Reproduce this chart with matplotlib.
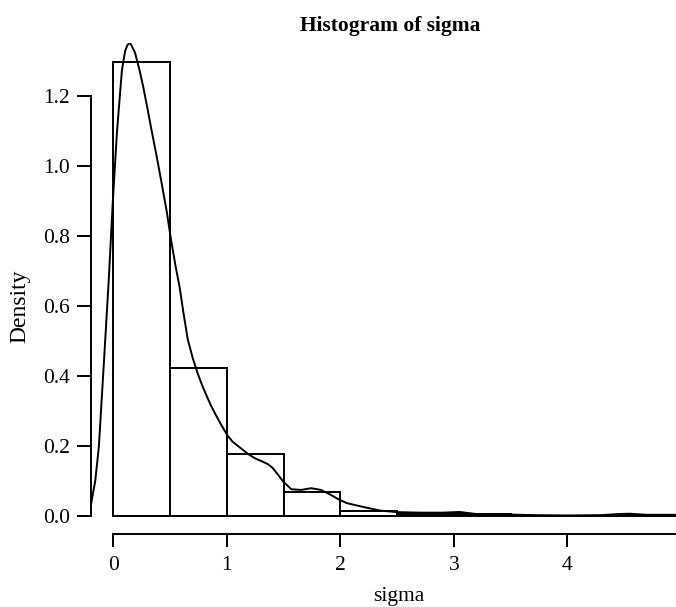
import matplotlib.pyplot as plt
import numpy as np

# histogram of sigma (density scale), bins of width 0.5
bin_edges = [0.0, 0.5, 1.0, 1.5, 2.0, 2.5, 3.0, 3.5, 4.0, 4.5, 5.0]
bin_density = [1.298, 0.422, 0.177, 0.0686, 0.0143, 0.006, 0.006, 0.0, 0.0, 0.003]

# kernel density estimate
kde_x = [-0.20, -0.16, -0.128, -0.084, -0.041, -0.006, 0.032, 0.075, 0.104,
         0.125, 0.148, 0.19, 0.23, 0.264, 0.30, 0.336, 0.38, 0.423, 0.47,
         0.51, 0.55, 0.583, 0.62, 0.655, 0.70, 0.742, 0.78, 0.815, 0.86,
         0.90, 0.95, 1.003, 1.05, 1.104, 1.19, 1.25, 1.307, 1.36, 1.40,
         1.452, 1.496, 1.568, 1.655, 1.742, 1.829, 1.916, 1.99, 2.06, 2.206,
         2.35, 2.496, 2.7, 2.9, 3.05, 3.2, 3.45, 3.7, 4.0, 4.3, 4.45, 4.55,
         4.7, 5.0, 5.3]
kde_y = [0.028, 0.10, 0.198, 0.437, 0.674, 0.894, 1.10, 1.274, 1.33,
         1.347, 1.352, 1.325, 1.275, 1.225, 1.165, 1.103, 1.03, 0.955, 0.87,
         0.785, 0.71, 0.655, 0.575, 0.505, 0.45, 0.408, 0.375, 0.348, 0.315,
         0.29, 0.26, 0.231, 0.212, 0.198, 0.176, 0.164, 0.156, 0.148, 0.138,
         0.117, 0.098, 0.076, 0.074, 0.079, 0.074, 0.060, 0.046, 0.036, 0.025,
         0.015, 0.0106, 0.009, 0.009, 0.011, 0.005, 0.004, 0.002, 0.001,
         0.002, 0.005, 0.006, 0.003, 0.003, 0.003]

y_ticks = [0.0, 0.2, 0.4, 0.6, 0.8, 1.0, 1.2]
x_ticks = [0, 1, 2, 3, 4, 5]

plt.rcParams['font.family'] = ['Liberation Serif', 'DejaVu Serif']

W, H = 676, 607
fig = plt.figure(figsize=(W / 100, H / 100), dpi=100)
# plot region in pixels: left 90.7, right 703.5, top 43, bottom 534
ax = fig.add_axes([90.7 / W, (H - 534) / H, (703.5 - 90.7) / W, (534 - 43) / H])

widths = np.diff(bin_edges)
ax.bar(bin_edges[:-1], bin_density, width=widths, align='edge',
       facecolor='white', edgecolor='black', linewidth=1.4)
ax.plot(kde_x, kde_y, color='black', linewidth=1.4)

ax.set_xlim(-0.2, 5.2)
ax.set_ylim(-0.052, 1.352)

for side in ['top', 'right']:
    ax.spines[side].set_visible(False)
ax.spines['left'].set_bounds(0, 1.2)
ax.spines['bottom'].set_bounds(0, 5)
for side in ['left', 'bottom']:
    ax.spines[side].set_linewidth(1.4)

ax.set_yticks(y_ticks)
ax.set_yticklabels([f'{v:.1f}' for v in y_ticks])
ax.set_xticks(x_ticks)
ax.tick_params(direction='out', width=1.4, labelsize=15.5)
ax.tick_params(axis='y', length=10, pad=5)
ax.tick_params(axis='x', length=9, pad=7)

fig.text(399 / W, (H - 601) / H, 'sigma', ha='center', va='baseline',
         fontsize=15.5)
fig.text(20 / W, (H - 306) / H, 'Density', ha='center', va='center',
         rotation=90, fontsize=17)
fig.text(390 / W, (H - 26) / H, 'Histogram of sigma', ha='center',
         va='center', fontsize=15.5, fontweight='bold')

fig.savefig('out.png', dpi=100)
